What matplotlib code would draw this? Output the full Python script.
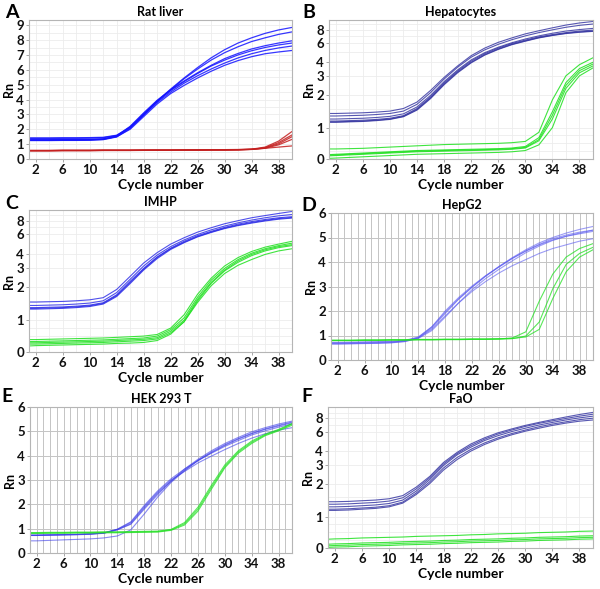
import numpy as np
import matplotlib
matplotlib.use('Agg')
import matplotlib.pyplot as plt
from matplotlib.ticker import FixedLocator, NullFormatter

plt.rcParams['font.family'] = ['Lato', 'DejaVu Sans']
plt.rcParams['font.weight'] = 'bold'

# cycles where the curves were read
cycles = [1, 2, 4, 6, 8, 10, 12, 14, 16, 18, 20, 22, 24, 26, 28, 30, 32, 34, 36, 38, 40]

# A - Rat liver (linear)
rat_blue = [
    [1.42, 1.42, 1.42, 1.43, 1.43, 1.44, 1.46, 1.60, 2.15, 3.00, 3.90, 4.70, 5.45, 6.15, 6.80, 7.35, 7.80, 8.15, 8.45, 8.68, 8.85],
    [1.38, 1.38, 1.38, 1.39, 1.39, 1.40, 1.43, 1.58, 2.10, 2.95, 3.85, 4.65, 5.40, 6.05, 6.65, 7.15, 7.55, 7.90, 8.15, 8.38, 8.55],
    [1.30, 1.30, 1.30, 1.31, 1.31, 1.32, 1.36, 1.55, 2.20, 3.10, 3.95, 4.65, 5.25, 5.80, 6.30, 6.75, 7.10, 7.40, 7.62, 7.80, 7.95],
    [1.26, 1.26, 1.26, 1.27, 1.27, 1.28, 1.32, 1.52, 2.15, 3.05, 3.90, 4.60, 5.20, 5.75, 6.25, 6.65, 7.00, 7.28, 7.50, 7.67, 7.80],
    [1.24, 1.24, 1.24, 1.25, 1.25, 1.26, 1.30, 1.48, 2.05, 2.95, 3.80, 4.50, 5.10, 5.60, 6.05, 6.45, 6.80, 7.08, 7.30, 7.47, 7.60],
    [1.28, 1.28, 1.28, 1.29, 1.29, 1.30, 1.34, 1.50, 2.00, 2.85, 3.70, 4.40, 4.95, 5.45, 5.90, 6.30, 6.62, 6.88, 7.08, 7.20, 7.30],
]
rat_red = [
    [0.57, 0.57, 0.57, 0.58, 0.58, 0.58, 0.59, 0.59, 0.59, 0.60, 0.60, 0.60, 0.61, 0.61, 0.62, 0.62, 0.63, 0.66, 0.80, 1.20, 1.85],
    [0.56, 0.56, 0.56, 0.57, 0.57, 0.57, 0.58, 0.58, 0.58, 0.59, 0.59, 0.59, 0.60, 0.60, 0.61, 0.61, 0.62, 0.65, 0.76, 1.10, 1.62],
    [0.56, 0.56, 0.56, 0.57, 0.57, 0.57, 0.58, 0.58, 0.58, 0.59, 0.59, 0.59, 0.60, 0.60, 0.61, 0.61, 0.62, 0.65, 0.74, 1.02, 1.50],
    [0.55, 0.55, 0.55, 0.56, 0.56, 0.56, 0.57, 0.57, 0.57, 0.58, 0.58, 0.58, 0.59, 0.59, 0.60, 0.60, 0.61, 0.64, 0.72, 0.95, 1.32],
    [0.58, 0.58, 0.58, 0.59, 0.59, 0.59, 0.60, 0.60, 0.60, 0.60, 0.61, 0.61, 0.61, 0.62, 0.62, 0.63, 0.64, 0.66, 0.72, 0.80, 0.88],
]

# B - Hepatocytes (symlog)
hep_blue = [
    [1.35, 1.35, 1.36, 1.37, 1.39, 1.42, 1.50, 1.72, 2.20, 2.90, 3.70, 4.60, 5.40, 6.10, 6.70, 7.30, 7.80, 8.30, 8.80, 9.20, 9.50],
    [1.28, 1.28, 1.29, 1.30, 1.32, 1.35, 1.42, 1.64, 2.10, 2.80, 3.60, 4.45, 5.20, 5.85, 6.45, 7.00, 7.50, 7.95, 8.40, 8.75, 9.00],
    [1.20, 1.20, 1.21, 1.22, 1.24, 1.27, 1.34, 1.55, 1.98, 2.65, 3.40, 4.20, 4.90, 5.50, 6.05, 6.55, 7.00, 7.40, 7.75, 8.00, 8.20],
    [1.15, 1.15, 1.16, 1.17, 1.19, 1.22, 1.29, 1.50, 1.92, 2.58, 3.32, 4.10, 4.80, 5.40, 5.95, 6.40, 6.85, 7.20, 7.50, 7.75, 7.90],
    [1.13, 1.13, 1.14, 1.15, 1.17, 1.20, 1.27, 1.47, 1.88, 2.52, 3.25, 4.00, 4.70, 5.30, 5.85, 6.30, 6.75, 7.10, 7.40, 7.62, 7.75],
    [1.12, 1.12, 1.13, 1.14, 1.16, 1.19, 1.26, 1.45, 1.85, 2.48, 3.20, 3.95, 4.65, 5.25, 5.80, 6.25, 6.70, 7.05, 7.35, 7.55, 7.70],
]
hep_green = [
    [0.32, 0.32, 0.33, 0.34, 0.36, 0.38, 0.40, 0.42, 0.44, 0.46, 0.47, 0.48, 0.49, 0.50, 0.52, 0.56, 0.85, 1.80, 3.00, 3.80, 4.40],
    [0.14, 0.15, 0.17, 0.19, 0.21, 0.23, 0.25, 0.27, 0.28, 0.29, 0.30, 0.31, 0.32, 0.33, 0.35, 0.40, 0.68, 1.40, 2.60, 3.50, 4.00],
    [0.12, 0.13, 0.15, 0.17, 0.19, 0.21, 0.23, 0.25, 0.26, 0.27, 0.28, 0.29, 0.30, 0.31, 0.33, 0.37, 0.62, 1.30, 2.45, 3.35, 3.85],
    [0.10, 0.11, 0.13, 0.15, 0.17, 0.19, 0.21, 0.23, 0.24, 0.25, 0.26, 0.27, 0.28, 0.29, 0.31, 0.35, 0.58, 1.20, 2.30, 3.20, 3.70],
    [0.02, 0.03, 0.05, 0.07, 0.09, 0.11, 0.13, 0.15, 0.16, 0.17, 0.18, 0.19, 0.20, 0.21, 0.23, 0.27, 0.45, 1.00, 2.10, 3.00, 3.55],
]

# C - IMHP (symlog)
imhp_blue = [
    [1.46, 1.46, 1.47, 1.48, 1.50, 1.53, 1.60, 1.90, 2.50, 3.30, 4.10, 4.90, 5.60, 6.30, 6.90, 7.50, 8.00, 8.50, 8.90, 9.30, 9.70],
    [1.36, 1.36, 1.37, 1.38, 1.40, 1.43, 1.50, 1.78, 2.35, 3.10, 3.90, 4.65, 5.35, 6.00, 6.60, 7.15, 7.65, 8.10, 8.50, 8.85, 9.10],
    [1.30, 1.30, 1.31, 1.32, 1.34, 1.37, 1.44, 1.70, 2.25, 2.95, 3.75, 4.50, 5.20, 5.85, 6.40, 6.95, 7.45, 7.85, 8.20, 8.50, 8.70],
    [1.28, 1.28, 1.29, 1.30, 1.32, 1.35, 1.42, 1.67, 2.20, 2.90, 3.70, 4.45, 5.10, 5.75, 6.30, 6.85, 7.30, 7.70, 8.05, 8.35, 8.55],
    [1.26, 1.26, 1.27, 1.28, 1.30, 1.33, 1.40, 1.64, 2.15, 2.85, 3.62, 4.38, 5.05, 5.70, 6.25, 6.78, 7.22, 7.60, 7.95, 8.25, 8.45],
]
imhp_green = [
    [0.39, 0.39, 0.40, 0.41, 0.42, 0.43, 0.44, 0.46, 0.48, 0.50, 0.55, 0.75, 1.12, 1.72, 2.40, 3.10, 3.70, 4.20, 4.60, 4.90, 5.20],
    [0.33, 0.33, 0.34, 0.35, 0.36, 0.37, 0.38, 0.40, 0.42, 0.44, 0.50, 0.70, 1.05, 1.62, 2.30, 2.95, 3.55, 4.05, 4.45, 4.75, 5.00],
    [0.29, 0.29, 0.30, 0.31, 0.32, 0.33, 0.34, 0.36, 0.38, 0.40, 0.45, 0.65, 1.00, 1.55, 2.20, 2.85, 3.45, 3.95, 4.35, 4.65, 4.85],
    [0.25, 0.25, 0.26, 0.27, 0.28, 0.29, 0.30, 0.32, 0.34, 0.36, 0.41, 0.60, 0.95, 1.50, 2.15, 2.80, 3.35, 3.85, 4.25, 4.55, 4.75],
    [0.19, 0.20, 0.21, 0.22, 0.23, 0.24, 0.25, 0.27, 0.28, 0.30, 0.36, 0.56, 0.95, 1.45, 2.05, 2.65, 3.15, 3.55, 3.95, 4.25, 4.45],
]

# D - HepG2 (linear)
hepg2_blue = [
    [0.72, 0.72, 0.73, 0.74, 0.75, 0.76, 0.80, 0.94, 1.35, 1.95, 2.50, 2.98, 3.42, 3.80, 4.15, 4.45, 4.70, 4.90, 5.05, 5.18, 5.30],
    [0.65, 0.65, 0.66, 0.67, 0.68, 0.70, 0.75, 0.90, 1.30, 1.90, 2.48, 2.97, 3.42, 3.82, 4.18, 4.50, 4.78, 5.00, 5.18, 5.33, 5.45],
    [0.68, 0.68, 0.69, 0.70, 0.71, 0.73, 0.78, 0.92, 1.35, 2.00, 2.55, 3.02, 3.44, 3.80, 4.15, 4.45, 4.72, 4.95, 5.10, 5.22, 5.30],
    [0.70, 0.70, 0.71, 0.72, 0.73, 0.74, 0.78, 0.90, 1.25, 1.80, 2.33, 2.80, 3.20, 3.55, 3.85, 4.10, 4.35, 4.55, 4.70, 4.85, 4.95],
    [0.66, 0.66, 0.67, 0.68, 0.69, 0.71, 0.76, 0.88, 1.20, 1.75, 2.33, 2.87, 3.32, 3.70, 4.05, 4.38, 4.65, 4.88, 5.05, 5.15, 5.25],
]
hepg2_green = [
    [0.80, 0.80, 0.80, 0.81, 0.81, 0.82, 0.82, 0.83, 0.83, 0.84, 0.84, 0.85, 0.85, 0.86, 0.90, 1.15, 2.40, 3.50, 4.20, 4.55, 4.75],
    [0.79, 0.79, 0.79, 0.80, 0.80, 0.81, 0.81, 0.82, 0.82, 0.83, 0.83, 0.84, 0.84, 0.85, 0.87, 0.98, 1.55, 2.90, 3.90, 4.35, 4.60],
    [0.81, 0.81, 0.81, 0.82, 0.82, 0.83, 0.83, 0.84, 0.84, 0.85, 0.85, 0.86, 0.86, 0.87, 0.88, 0.94, 1.25, 2.50, 3.60, 4.20, 4.50],
]

# E - HEK 293 T (linear)
hek_blue = [
    [0.72, 0.72, 0.74, 0.75, 0.76, 0.78, 0.82, 0.97, 1.25, 1.90, 2.50, 3.00, 3.35, 3.70, 3.98, 4.25, 4.50, 4.72, 4.90, 5.05, 5.15],
    [0.74, 0.74, 0.75, 0.76, 0.77, 0.79, 0.83, 0.98, 1.28, 1.95, 2.55, 3.05, 3.45, 3.80, 4.10, 4.38, 4.62, 4.85, 5.02, 5.17, 5.30],
    [0.73, 0.73, 0.74, 0.75, 0.76, 0.78, 0.82, 0.96, 1.20, 1.85, 2.45, 2.95, 3.40, 3.80, 4.15, 4.45, 4.70, 4.92, 5.10, 5.25, 5.38],
    [0.72, 0.72, 0.73, 0.74, 0.75, 0.77, 0.81, 0.95, 1.18, 1.80, 2.40, 2.95, 3.45, 3.85, 4.20, 4.50, 4.75, 4.98, 5.15, 5.30, 5.42],
    [0.50, 0.50, 0.52, 0.54, 0.56, 0.58, 0.62, 0.70, 0.95, 1.60, 2.30, 2.90, 3.38, 3.80, 4.12, 4.42, 4.68, 4.90, 5.08, 5.22, 5.35],
]
hek_green = [
    [0.82, 0.82, 0.83, 0.83, 0.84, 0.84, 0.85, 0.85, 0.86, 0.87, 0.88, 0.95, 1.20, 1.80, 2.70, 3.55, 4.15, 4.55, 4.85, 5.05, 5.30],
    [0.80, 0.80, 0.81, 0.81, 0.82, 0.82, 0.83, 0.83, 0.84, 0.85, 0.86, 0.93, 1.15, 1.72, 2.62, 3.50, 4.10, 4.50, 4.82, 5.02, 5.25],
    [0.84, 0.84, 0.85, 0.85, 0.86, 0.86, 0.87, 0.87, 0.88, 0.89, 0.90, 0.97, 1.25, 1.88, 2.78, 3.62, 4.20, 4.60, 4.88, 5.08, 5.32],
]

# F - FaO (symlog)
fao_blue = [
    [1.37, 1.37, 1.38, 1.40, 1.42, 1.46, 1.56, 1.87, 2.35, 3.15, 3.90, 4.65, 5.30, 5.90, 6.40, 6.90, 7.35, 7.80, 8.25, 8.70, 9.10],
    [1.30, 1.30, 1.31, 1.33, 1.35, 1.39, 1.49, 1.80, 2.28, 3.05, 3.80, 4.50, 5.15, 5.75, 6.25, 6.75, 7.20, 7.60, 8.00, 8.40, 8.75],
    [1.23, 1.23, 1.24, 1.26, 1.28, 1.32, 1.42, 1.72, 2.20, 2.95, 3.70, 4.35, 5.00, 5.55, 6.05, 6.50, 6.95, 7.35, 7.75, 8.10, 8.40],
    [1.17, 1.17, 1.18, 1.20, 1.22, 1.26, 1.36, 1.65, 2.10, 2.80, 3.50, 4.15, 4.75, 5.30, 5.80, 6.25, 6.70, 7.10, 7.45, 7.80, 8.05],
    [1.14, 1.14, 1.15, 1.17, 1.19, 1.23, 1.33, 1.60, 2.02, 2.68, 3.35, 4.00, 4.60, 5.15, 5.65, 6.10, 6.50, 6.90, 7.25, 7.55, 7.75],
]
fao_green = [
    [0.28, 0.29, 0.30, 0.32, 0.33, 0.34, 0.35, 0.37, 0.38, 0.39, 0.40, 0.42, 0.43, 0.45, 0.46, 0.47, 0.49, 0.50, 0.51, 0.53, 0.54],
    [0.12, 0.13, 0.14, 0.16, 0.17, 0.18, 0.20, 0.21, 0.22, 0.24, 0.25, 0.27, 0.28, 0.29, 0.31, 0.32, 0.34, 0.35, 0.36, 0.38, 0.39],
    [0.07, 0.08, 0.09, 0.11, 0.12, 0.13, 0.15, 0.16, 0.17, 0.19, 0.20, 0.22, 0.23, 0.24, 0.26, 0.27, 0.29, 0.30, 0.31, 0.33, 0.34],
    [0.02, 0.03, 0.04, 0.06, 0.07, 0.08, 0.10, 0.11, 0.12, 0.14, 0.15, 0.17, 0.18, 0.19, 0.21, 0.22, 0.24, 0.25, 0.26, 0.28, 0.29],
]

xticks = [2, 6, 10, 14, 18, 22, 26, 30, 34, 38]
log_ticks = [0, 1, 2, 3, 4, 6, 8]

W, H = 600, 589
fig = plt.figure(figsize=(W / 100, H / 100), dpi=100)


def make_ax(left, top, right, bottom):
    return fig.add_axes([left / W, 1 - bottom / H, (right - left) / W, (bottom - top) / H])


def style(ax, title, letter, letter_xy, kind, ymax):
    ax.set_xlim(1, 40)
    ax.set_xticks(xticks)
    ax.tick_params(length=2, width=0.6, color='#999999', labelsize=9.5, pad=1.5, labelcolor='#111111')
    for s in ax.spines.values():
        s.set_color('#b5b5b5')
        s.set_linewidth(0.8)
    if kind == 'symlog':
        ax.set_yscale('symlog', linthresh=1, linscale=0.26)
        ax.set_ylim(0, ymax)
        ax.yaxis.set_major_locator(FixedLocator(log_ticks))
        ax.set_yticklabels([str(t) for t in log_ticks])
        ax.yaxis.set_minor_locator(FixedLocator([0.25, 0.5, 0.75, 1.5, 5, 7, 9]))
        ax.yaxis.set_minor_formatter(NullFormatter())
        ax.xaxis.set_minor_locator(FixedLocator(range(4, 40, 4)))
        ax.grid(True, which='both', color='#ececec', lw=0.6)
    elif kind == 'lin':
        ax.set_ylim(0, ymax)
        ax.set_yticks(range(0, int(ymax) + 1))
        ax.yaxis.set_minor_locator(FixedLocator(np.arange(0.5, ymax, 1.0)))
        ax.xaxis.set_minor_locator(FixedLocator(range(4, 40, 4)))
        ax.grid(True, which='both', color='#ececec', lw=0.6)
    else:
        ax.set_ylim(0, ymax)
        ax.set_yticks(range(0, int(ymax) + 1))
        ax.xaxis.set_minor_locator(FixedLocator(range(1, 41)))
        ax.grid(True, which='major', axis='y', color='#c4c4c4', lw=0.7)
        ax.grid(True, which='both', axis='x', color='#c4c4c4', lw=0.7)
    ax.tick_params(which='minor', length=0)
    ax.set_axisbelow(True)
    ax.set_title(title, fontsize=9, fontweight='bold', pad=3)
    ax.set_xlabel('Cycle number', fontsize=10, fontweight='bold', labelpad=2)
    ax.set_ylabel('Rn', fontsize=9, fontweight='bold', labelpad=1)
    fig.text(letter_xy[0] / W, 1 - letter_xy[1] / H, letter, fontsize=14,
             fontweight='bold', ha='left', va='center')


def curves(ax, data, color, lw=0.8, alpha=1.0):
    for row in data:
        ax.plot(cycles, row, color=color, lw=lw, alpha=alpha)


axA = make_ax(29, 20, 292, 159)
curves(axA, rat_blue, '#1414ff', 0.9, 0.85)
curves(axA, rat_red, '#c42020', 0.9, 0.85)
style(axA, 'Rat liver', 'A', (5, 13), 'lin', 9.35)

axB = make_ax(329, 20, 593, 159)
curves(axB, hep_blue, '#2e2e9e', 0.8, 0.8)
curves(axB, hep_green, '#1ee01e', 0.8, 0.85)
style(axB, 'Hepatocytes', 'B', (302, 13), 'symlog', 9.8)

axC = make_ax(29, 210, 292, 352)
curves(axC, imhp_blue, '#2424e6', 0.8, 0.8)
curves(axC, imhp_green, '#1ee01e', 0.8, 0.85)
style(axC, 'IMHP', 'C', (5, 204), 'symlog', 10.0)

axD = make_ax(331, 213, 593, 360)
curves(axD, hepg2_blue, '#5a5af0', 0.8, 0.6)
curves(axD, hepg2_green, '#22e022', 0.8, 0.75)
style(axD, 'HepG2', 'D', (301, 205), 'grid', 6)

axE = make_ax(30, 407, 292, 553)
curves(axE, hek_blue, '#3c3ce8', 0.8, 0.6)
curves(axE, hek_green, '#22e022', 0.8, 0.75)
style(axE, 'HEK 293 T', 'E', (1, 397), 'grid', 6)

axF = make_ax(328, 407, 593, 548)
curves(axF, fao_blue, '#2e2e9e', 0.8, 0.8)
curves(axF, fao_green, '#1ee01e', 0.8, 0.85)
style(axF, 'FaO', 'F', (301, 397), 'symlog', 10.2)

fig.savefig('out.png', dpi=100)
